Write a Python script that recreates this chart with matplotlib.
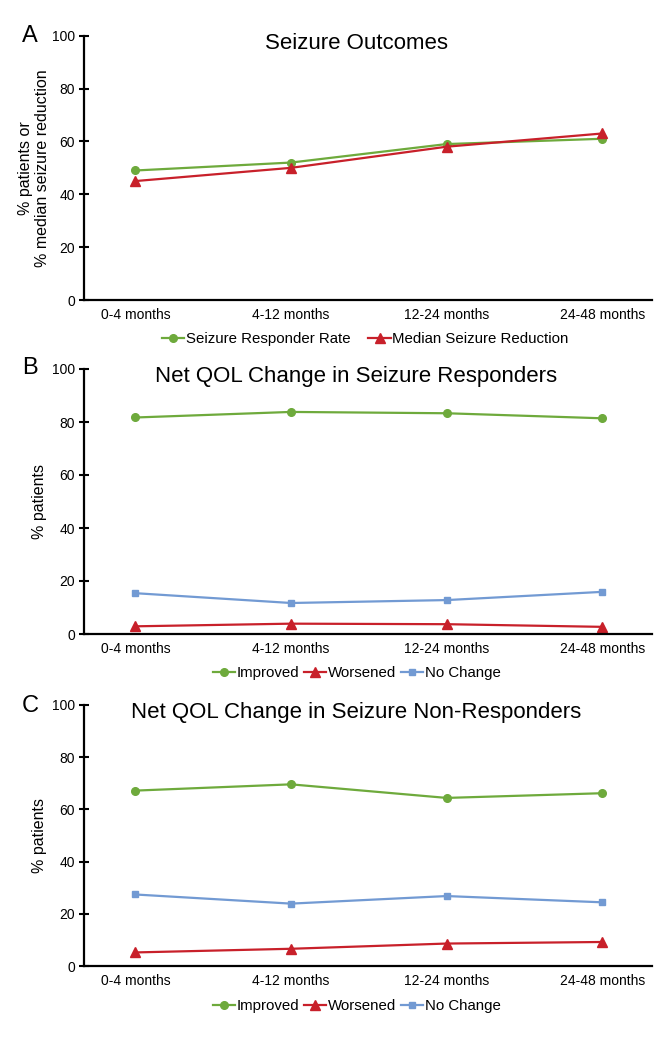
import matplotlib
matplotlib.use("Agg")
import matplotlib.pyplot as plt

plt.rcParams['font.family'] = ['Liberation Sans', 'DejaVu Sans']

periods = ["0-4 months", "4-12 months", "12-24 months", "24-48 months"]

# Panel A
responder_rate = [49, 52, 59, 61]
median_reduction = [45, 50, 58, 63]

# Panel B (seizure responders)
b_improved = [81.7, 83.8, 83.3, 81.4]
b_worsened = [2.9, 3.9, 3.7, 2.7]
b_nochange = [15.4, 11.7, 12.8, 15.9]

# Panel C (seizure non-responders)
c_improved = [67.2, 69.6, 64.4, 66.2]
c_worsened = [5.2, 6.6, 8.6, 9.2]
c_nochange = [27.4, 23.9, 26.8, 24.4]

GREEN = "#6EAA3C"
RED = "#C8202A"
BLUE = "#729AD3"

fig = plt.figure(figsize=(6.7, 10.5), dpi=100)

left, width = 84 / 670, 568 / 670
rects = {
    "A": (left, 1 - 300 / 1050, width, (300 - 35.7) / 1050),
    "B": (left, 1 - 634 / 1050, width, (634 - 369) / 1050),
    "C": (left, 1 - 966 / 1050, width, (966 - 705) / 1050),
}

x = list(range(len(periods)))


def style_axes(ax, title, ylabel):
    ax.set_xlim(-0.33, 3.32)
    ax.set_ylim(0, 100)
    ax.set_yticks([0, 20, 40, 60, 80, 100])
    ax.set_xticks(x)
    ax.set_xticklabels(periods, fontsize=10)
    ax.tick_params(axis='x', length=0, pad=6)
    ax.tick_params(axis='y', direction='inout', length=7, width=1.5,
                   labelsize=10, pad=3)
    ax.spines['top'].set_visible(False)
    ax.spines['right'].set_visible(False)
    ax.spines['left'].set_linewidth(1.6)
    ax.spines['bottom'].set_linewidth(1.6)
    ax.set_title(title, fontsize=16, x=0.479, y=0.94, va='center')
    ax.set_ylabel(ylabel, fontsize=11.5, labelpad=4)


leg_kw = dict(loc='center', frameon=False, fontsize=10.8, handlelength=1.5,
              handletextpad=0.1)

# Panel A
axA = fig.add_axes(rects["A"])
axA.plot(x, responder_rate, color=GREEN, lw=1.6, marker='o', ms=5.5,
         label="Seizure Responder Rate")
axA.plot(x, median_reduction, color=RED, lw=1.6, marker='^', ms=7.5,
         label="Median Seizure Reduction")
style_axes(axA, "Seizure Outcomes", "% patients or\n% median seizure reduction")
axA.yaxis.set_label_coords(-0.06, 0.5)
axA.legend(bbox_to_anchor=(0.495, -0.148), ncol=2, columnspacing=1.2, **leg_kw)

# Panel B
axB = fig.add_axes(rects["B"])
axB.plot(x, b_improved, color=GREEN, lw=1.6, marker='o', ms=5.5, label="Improved")
axB.plot(x, b_worsened, color=RED, lw=1.6, marker='^', ms=7.5, label="Worsened")
axB.plot(x, b_nochange, color=BLUE, lw=1.6, marker='s', ms=5, label="No Change")
style_axes(axB, "Net QOL Change in Seizure Responders", "% patients")
axB.yaxis.set_label_coords(-0.065, 0.5)
axB.legend(bbox_to_anchor=(0.48, -0.148), ncol=3, columnspacing=0.3, **leg_kw)

# Panel C
axC = fig.add_axes(rects["C"])
axC.plot(x, c_improved, color=GREEN, lw=1.6, marker='o', ms=5.5, label="Improved")
axC.plot(x, c_worsened, color=RED, lw=1.6, marker='^', ms=7.5, label="Worsened")
axC.plot(x, c_nochange, color=BLUE, lw=1.6, marker='s', ms=5, label="No Change")
style_axes(axC, "Net QOL Change in Seizure Non-Responders", "% patients")
axC.yaxis.set_label_coords(-0.065, 0.5)
axC.legend(bbox_to_anchor=(0.48, -0.155), ncol=3, columnspacing=0.3, **leg_kw)

# Panel letters
for letter, ypx in [("A", 36), ("B", 368), ("C", 706)]:
    fig.text(22 / 670, 1 - ypx / 1050, letter, fontsize=17, ha='left', va='center')

fig.savefig("out.png", dpi=100)
